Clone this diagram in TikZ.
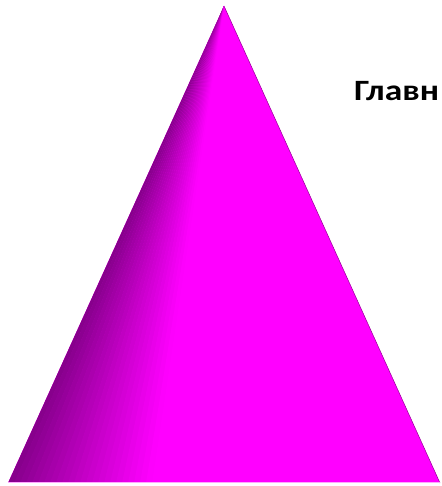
\documentclass[tikz,border=0pt]{standalone}
\usepackage{fontspec}
\setmainfont{Carlito}
\usetikzlibrary{positioning}
\definecolor{conemag}{RGB}{255,0,255}
\definecolor{conedark}{RGB}{135,0,140}
\definecolor{coneedge}{RGB}{150,0,150}

\begin{document}
\begin{tikzpicture}[x=1pt,y=1pt]
\useasboundingbox (0,0) rectangle (441,486);
\clip (0,0) rectangle (441,486);

%Step 1: cone, front view
\coordinate (apex) at (224,480);
\coordinate (bl) at (8,3);
\coordinate (br) at (440,3);
\fill [conemag] (apex) -- (bl) -- (br) -- cycle;
\begin{scope}
\clip (apex) -- (bl) -- (br) -- cycle;
\foreach \i in {0,...,24} {
  \pgfmathsetmacro{\xa}{8+6*\i}
  \pgfmathsetmacro{\xb}{\xa+6.5}
  \pgfmathsetmacro{\pc}{min(100,100*(\xa-8)/140)}
  \fill [conemag!\pc!conedark] (apex) -- (\xa,3) -- (\xb,3) -- cycle;
}
\end{scope}

%Step 2: edges
\draw [coneedge, line width=0.5pt] (apex) -- (br);
\draw [conemag!35, line width=1pt] (bl) -- (br);

%Step 3: label
\begin{scope}[shift={(354,385)}, xscale=1.2]
\node [transform shape, anchor=base west, inner sep=0pt, font=\bfseries\fontsize{29.5}{34}\selectfont] (title) at (0,0) {Главн};
\end{scope}
\end{tikzpicture}
\end{document}
